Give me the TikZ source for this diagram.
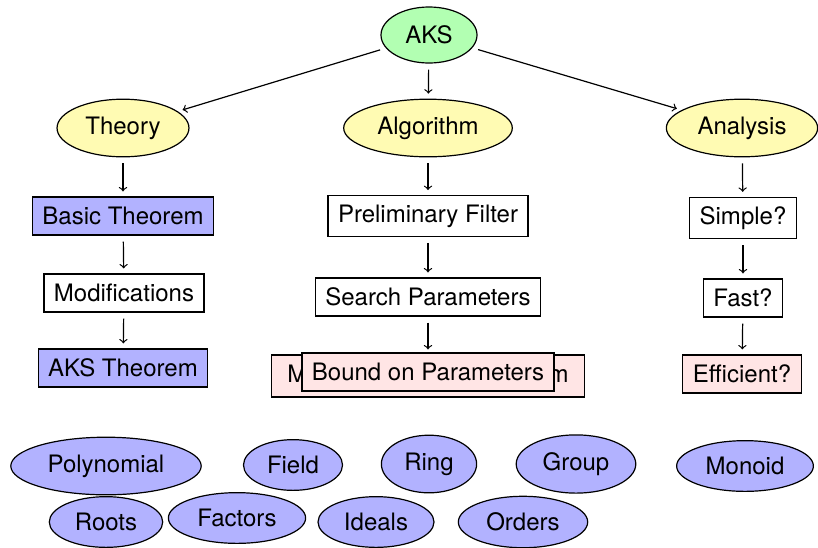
\documentclass[tikz,border=0pt]{standalone}
\usepackage{fontspec}
\setmainfont{TeX Gyre Heros}
\usetikzlibrary{shapes.geometric}

\begin{document}
\begin{tikzpicture}[x=0.5pt,y=-0.5pt,>=to,line width=0.6pt,font=\fontsize{12}{14}\selectfont]

\tikzstyle{root}=[ellipse,draw,fill=green!30,minimum width=48pt,minimum height=28pt]
\tikzstyle{topic}=[ellipse,draw,fill=yellow!30,inner xsep=4.5pt,inner ysep=4.5pt]
\tikzstyle{infobox}=[rectangle,draw,fill=white,inner xsep=5pt,inner ysep=4.5pt,minimum height=19pt]
\tikzstyle{keybox}=[infobox,fill=blue!30]
\tikzstyle{goalbox}=[infobox,fill=red!10]
\tikzstyle{concept}=[ellipse,draw,fill=blue!30,inner xsep=4.5pt,inner ysep=4.5pt]

\useasboundingbox (0,0) rectangle (818,547);

\node[root] (aks) at (429,35) {AKS};

\node[topic] (theory) at (123,128) {Theory};
\node[topic] (algorithm) at (428,128) {Algorithm};
\node[topic] (analysis) at (742,128) {Analysis};

% theory column
\node[keybox] (basic) at (123,216) {Basic Theorem};
\node[infobox] (modif) at (124,293) {Modifications};
\node[keybox] (akst) at (123,368) {AKS Theorem};

% algorithm column
\node[infobox] (prelim) at (428,216) {Preliminary Filter};
\node[infobox] (search) at (428,297) {Search Parameters};
\node[goalbox,minimum width=156.5pt,minimum height=21pt] (main) at (428,376) {Modified Search Algorithm};
\node[goalbox] (bound) at (428,372) {Bound on Parameters};

% analysis column
\node[infobox] (simple) at (743,218) {Simple?};
\node[infobox] (fast) at (743,298) {Fast?};
\node[goalbox] (efficient) at (742,374) {Efficient?};

\foreach \a/\b in {aks/theory,aks/algorithm,aks/analysis,
                   theory/basic,basic/modif,modif/akst,
                   algorithm/prelim,prelim/search,search/main,
                   analysis/simple,simple/fast,fast/efficient}
    \draw[->,shorten <=3pt,shorten >=2.5pt] (\a) -- (\b);

% structures along the bottom
\node[concept] (poly) at (106,466) {Polynomial};
\node[concept] (field) at (293,465) {Field};
\node[concept] (ring) at (429,464) {Ring};
\node[concept] (group) at (576,464) {Group};
\node[concept] (monoid) at (745,466) {Monoid};
\node[concept] (roots) at (106,522) {Roots};
\node[concept] (factors) at (237,518) {Factors};
\node[concept] (ideals) at (376,522) {Ideals};
\node[concept] (orders) at (523,522) {Orders};

\end{tikzpicture}
\end{document}
